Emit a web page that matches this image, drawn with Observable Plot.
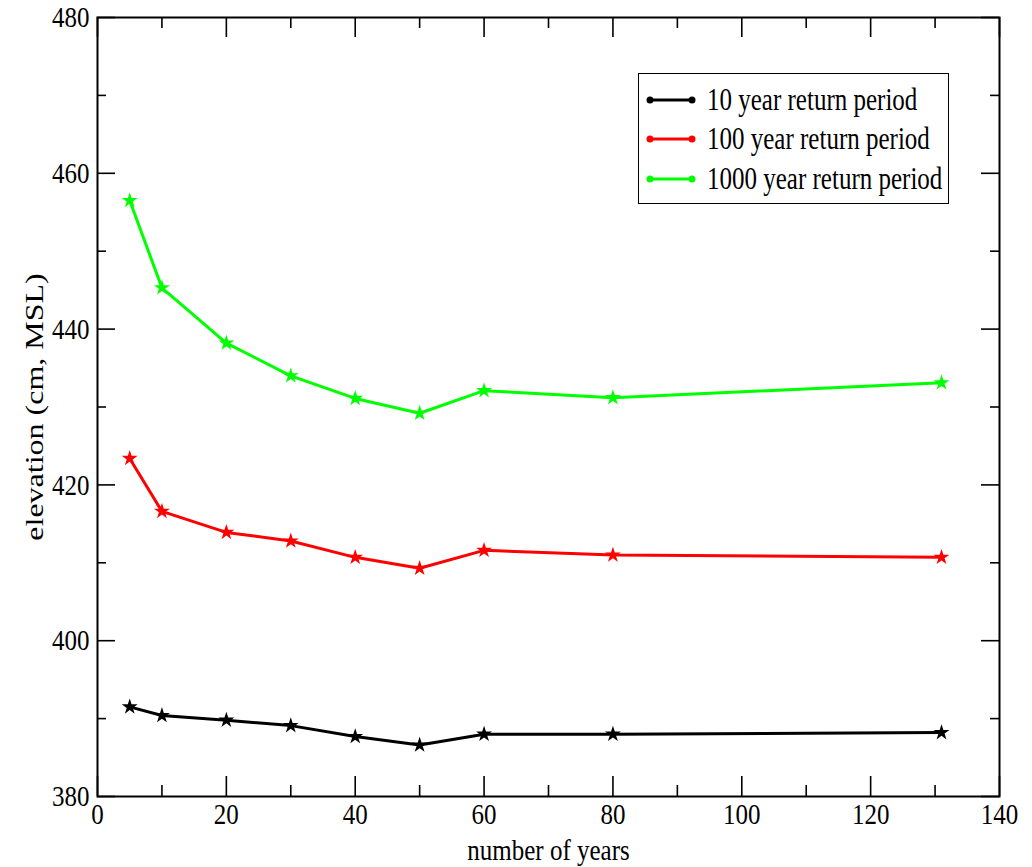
<!DOCTYPE html>
<html><head><meta charset="utf-8">
<script src="https://cdn.jsdelivr.net/npm/d3@7"></script>
<script src="https://cdn.jsdelivr.net/npm/@observablehq/plot@0.6"></script>
<style>
body{margin:0;background:#fff;}
#chart{position:relative;width:1032px;height:867px;}
#chart svg text{font-family:"Liberation Serif","Times New Roman",serif;}
#legend{position:absolute;left:638px;top:73px;width:309px;height:129px;border:1.5px solid #000;background:#fff;font-family:"Liberation Serif","Times New Roman",serif;font-size:25px;color:#000;}
#legend .row{position:absolute;left:8px;height:30px;display:flex;align-items:center;}
#legend .row span{display:inline-block;transform:scaleY(1.25);margin-left:12px;white-space:nowrap;}
</style></head><body><div id="chart"></div>
<script>
const years = [5, 10, 20, 30, 40, 50, 60, 80, 131];
const rp10 = [391.5, 390.4, 389.8, 389.1, 387.7, 386.6, 388.0, 388.0, 388.2];
const rp100 = [423.4, 416.6, 413.9, 412.8, 410.7, 409.3, 411.6, 411.0, 410.7];
const rp1000 = [456.5, 445.3, 438.2, 434.0, 431.1, 429.2, 432.1, 431.2, 433.1];
const seriesNames = ["10 year return period", "100 year return period", "1000 year return period"];
const seriesColors = ["#000000", "#ff0000", "#00ff00"];
const xTicks = [0, 20, 40, 60, 80, 100, 120, 140];
const xMinor = [10, 30, 50, 70, 90, 110, 130];
const yTicks = [380, 400, 420, 440, 460, 480];
const yMinor = [390, 410, 430, 450, 470];
const xLabel = "number of years";
const yLabel = "elevation (cm, MSL)";

const seriesValues = [rp10, rp100, rp1000];
const data = [];
seriesNames.forEach((name, s) => years.forEach((x, i) => data.push({series: name, x, y: seriesValues[s][i]})));

const W = 1032, H = 867;
const mL = 97, mR = 33, mT = 17, mB = 71;
const innerW = W - mL - mR, innerH = H - mT - mB;
const majX = 20, minX = 11, majY = 18, minY = 9;
const serif = "Liberation Serif, Times New Roman, serif";

const chart = Plot.plot({
  width: W, height: H,
  marginLeft: mL, marginRight: mR, marginTop: mT, marginBottom: mB,
  style: {fontFamily: serif, fontSize: "25px", background: "#fff", color: "#000"},
  x: {domain: [0, 140], label: null},
  y: {domain: [380, 480], label: null},
  color: {domain: seriesNames, range: seriesColors},
  marks: [
    Plot.axisX({ticks: xTicks, tickSize: 0, tickPadding: 6, fontSize: 25, label: null}),
    Plot.axisY({ticks: yTicks, tickSize: 0, tickPadding: 8, fontSize: 25, label: null}),
    Plot.tickX(xTicks, {x: d => d, insetTop: innerH - majX, stroke: "#000", strokeWidth: 1.6}),
    Plot.tickX(xMinor, {x: d => d, insetTop: innerH - minX, stroke: "#000", strokeWidth: 1.6}),
    Plot.tickX(xTicks, {x: d => d, insetBottom: innerH - majX, stroke: "#000", strokeWidth: 1.6}),
    Plot.tickX(xMinor, {x: d => d, insetBottom: innerH - minX, stroke: "#000", strokeWidth: 1.6}),
    Plot.tickY(yTicks, {y: d => d, insetRight: innerW - majY, stroke: "#000", strokeWidth: 1.6}),
    Plot.tickY(yMinor, {y: d => d, insetRight: innerW - minY, stroke: "#000", strokeWidth: 1.6}),
    Plot.tickY(yTicks, {y: d => d, insetLeft: innerW - majY, stroke: "#000", strokeWidth: 1.6}),
    Plot.tickY(yMinor, {y: d => d, insetLeft: innerW - minY, stroke: "#000", strokeWidth: 1.6}),
    Plot.frame({stroke: "#000", strokeWidth: 2}),
    Plot.line(data, {x: "x", y: "y", z: "series", stroke: "series", strokeWidth: 3}),
    Plot.dot(data, {x: "x", y: "y", fill: "series", symbol: "star", r: 5}),
    Plot.text([xLabel], {text: d => d, frameAnchor: "bottom", textAnchor: "middle", dy: 63, fontSize: 25}),
    Plot.text([yLabel], {text: d => d, frameAnchor: "left", textAnchor: "middle", rotate: -90, dx: -63, fontSize: 25})
  ]
});

chart.querySelectorAll("text").forEach(t => {
  t.setAttribute("font-family", serif);
  t.style.fontFamily = serif;
  const tr = t.getAttribute("transform");
  if (tr) {
    if (/rotate/.test(tr)) t.setAttribute("transform", tr + " scale(1.28,1)");
    else t.setAttribute("transform", tr + " scale(1,1.22)");
  } else {
    const x = +(t.getAttribute("x") || 0), y = +(t.getAttribute("y") || 0);
    t.setAttribute("transform", `translate(${x},${y}) scale(1,1.22) translate(${-x},${-y})`);
  }
});

const holder = document.getElementById("chart");
holder.appendChild(chart);

const legend = document.createElement("div");
legend.id = "legend";
const rowTops = [11, 50, 90];
seriesNames.forEach((name, i) => {
  const row = document.createElement("div");
  row.className = "row";
  row.style.top = rowTops[i] + "px";
  const c = seriesColors[i];
  row.innerHTML = `<svg width="48" height="14" style="overflow:visible">
    <line x1="3" y1="7" x2="45" y2="7" stroke="${c}" stroke-width="3"/>
    <circle cx="3" cy="7" r="3.5" fill="${c}"/><circle cx="45" cy="7" r="3.5" fill="${c}"/></svg><span>${name}</span>`;
  legend.appendChild(row);
});
holder.appendChild(legend);
</script>
</body></html>
